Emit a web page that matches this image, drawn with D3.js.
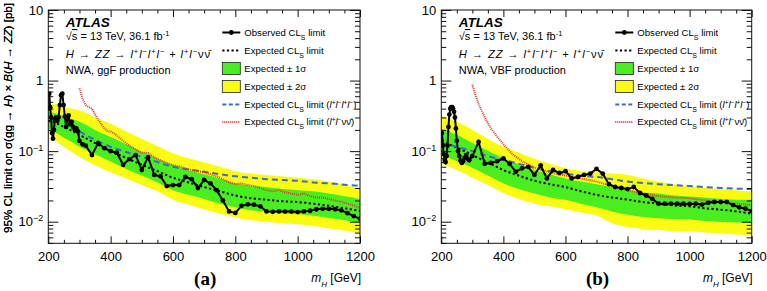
<!DOCTYPE html>
<html>
<head>
<meta charset="utf-8">
<script src="https://d3js.org/d3.v7.min.js"></script>
<style>
  body { margin: 0; background: #fff; }
  svg { font-family: "Liberation Sans", Arial, Helvetica, sans-serif; }
</style>
</head>
<body>
<script>
// mass grid for the expected limit and bands
const masses = [200, 225, 250, 275, 300, 350, 400, 450, 500, 550, 600, 650, 700, 750, 800, 850, 900, 950, 1000, 1050, 1100, 1150, 1200];

// ggF production
const ggfExp    = [0.27, 0.25, 0.22, 0.195, 0.17, 0.13, 0.10, 0.08, 0.064, 0.052, 0.042, 0.036, 0.031, 0.027, 0.0235, 0.0215, 0.0205, 0.0195, 0.019, 0.018, 0.0168, 0.0155, 0.0142];
const ggfMinus2 = [0.18, 0.14, 0.115, 0.097, 0.083, 0.063, 0.05, 0.041, 0.033, 0.027, 0.0205, 0.0175, 0.015, 0.013, 0.0115, 0.0105, 0.010, 0.0095, 0.0092, 0.0087, 0.0081, 0.0075, 0.0068];
const ggfMinus1 = [0.21, 0.18, 0.155, 0.135, 0.115, 0.09, 0.071, 0.056, 0.045, 0.036, 0.028, 0.024, 0.021, 0.018, 0.016, 0.0145, 0.0138, 0.0132, 0.0128, 0.0121, 0.0113, 0.0105, 0.0096];
const ggfPlus1  = [0.36, 0.34, 0.31, 0.285, 0.26, 0.20, 0.158, 0.125, 0.098, 0.078, 0.064, 0.054, 0.047, 0.041, 0.035, 0.032, 0.031, 0.029, 0.028, 0.027, 0.025, 0.023, 0.021];
const ggfPlus2  = [0.46, 0.46, 0.43, 0.40, 0.38, 0.30, 0.245, 0.19, 0.15, 0.118, 0.093, 0.079, 0.069, 0.060, 0.052, 0.048, 0.046, 0.044, 0.042, 0.040, 0.037, 0.033, 0.029];

const ggfObsMass = [200, 203, 206, 209, 212, 215, 218, 221, 225, 229, 233, 237, 241, 245, 249, 253, 257, 261, 265, 270, 275, 280, 285, 290, 295, 300, 310, 320, 340, 360, 380, 400, 420, 440, 460, 480, 500, 520, 540, 560, 580, 600, 620, 640, 660, 680, 700, 720, 740, 760, 780, 800, 820, 840, 860, 880, 900, 920, 940, 960, 980, 1000, 1020, 1040, 1060, 1080, 1100, 1120, 1140, 1160, 1180, 1200];
const ggfObs     = [0.40, 0.65, 0.42, 0.30, 0.18, 0.15, 0.20, 0.28, 0.30, 0.27, 0.30, 0.45, 0.62, 0.65, 0.45, 0.31, 0.22, 0.28, 0.32, 0.24, 0.26, 0.22, 0.20, 0.21, 0.19, 0.14, 0.125, 0.12, 0.088, 0.13, 0.11, 0.10, 0.095, 0.064, 0.077, 0.088, 0.054, 0.082, 0.046, 0.044, 0.032, 0.033, 0.033, 0.043, 0.040, 0.030, 0.039, 0.035, 0.028, 0.020, 0.014, 0.0133, 0.0168, 0.0176, 0.0174, 0.0165, 0.014, 0.0138, 0.014, 0.0139, 0.0139, 0.0137, 0.014, 0.0143, 0.015, 0.0152, 0.0152, 0.015, 0.0145, 0.0132, 0.012, 0.011];

const ggf4lMass = [300, 350, 400, 450, 500, 550, 600, 650, 700, 750, 800, 850, 900, 950, 1000, 1050, 1100, 1150, 1200];
const ggf4l     = [0.19, 0.145, 0.115, 0.097, 0.083, 0.07, 0.06, 0.055, 0.051, 0.047, 0.044, 0.042, 0.040, 0.039, 0.038, 0.036, 0.035, 0.0335, 0.032];

const ggfVvMass = [300, 310, 320, 330, 340, 350, 360, 370, 380, 390, 400, 410, 420, 440, 460, 480, 500, 520, 540, 560, 580, 600, 620, 640, 660, 680, 700, 720, 740, 760, 780, 800, 820, 840, 860, 880, 900, 920, 940, 960, 980, 1000, 1020, 1040, 1060, 1080, 1100, 1120, 1140, 1160, 1180, 1200];
const ggfVv     = [0.78, 0.55, 0.45, 0.42, 0.40, 0.33, 0.28, 0.24, 0.21, 0.19, 0.19, 0.18, 0.165, 0.14, 0.12, 0.105, 0.095, 0.094, 0.082, 0.074, 0.068, 0.063, 0.061, 0.057, 0.054, 0.052, 0.05, 0.047, 0.044, 0.040, 0.036, 0.034, 0.035, 0.033, 0.032, 0.030, 0.028, 0.027, 0.028, 0.026, 0.025, 0.024, 0.025, 0.023, 0.022, 0.022, 0.021, 0.020, 0.019, 0.018, 0.017, 0.0155];

// VBF production
const vbfExp    = [0.135, 0.125, 0.112, 0.10, 0.088, 0.069, 0.054, 0.045, 0.038, 0.034, 0.031, 0.027, 0.024, 0.022, 0.0205, 0.019, 0.018, 0.017, 0.0165, 0.0155, 0.0148, 0.014, 0.013];
const vbfMinus2 = [0.067, 0.060, 0.054, 0.048, 0.042, 0.033, 0.0254, 0.021, 0.018, 0.0165, 0.015, 0.0135, 0.0122, 0.0095, 0.0084, 0.0079, 0.0076, 0.0074, 0.0073, 0.0070, 0.0068, 0.0066, 0.0065];
const vbfMinus1 = [0.088, 0.080, 0.072, 0.065, 0.058, 0.045, 0.035, 0.029, 0.025, 0.022, 0.0204, 0.018, 0.016, 0.014, 0.0125, 0.0117, 0.0112, 0.0109, 0.0107, 0.0102, 0.0099, 0.0097, 0.0096];
const vbfPlus1  = [0.21, 0.19, 0.17, 0.15, 0.13, 0.101, 0.079, 0.065, 0.054, 0.047, 0.041, 0.037, 0.034, 0.031, 0.028, 0.026, 0.025, 0.0235, 0.0227, 0.022, 0.021, 0.0205, 0.0204];
const vbfPlus2  = [0.32, 0.29, 0.26, 0.23, 0.20, 0.15, 0.115, 0.095, 0.078, 0.066, 0.057, 0.052, 0.050, 0.048, 0.046, 0.041, 0.037, 0.034, 0.032, 0.030, 0.029, 0.028, 0.0267];

const vbfObsMass = [200, 202, 205, 208, 211, 214, 217, 220, 223, 226, 229, 232, 235, 238, 241, 244, 247, 250, 254, 258, 262, 266, 270, 275, 280, 285, 290, 300, 320, 340, 360, 380, 400, 420, 440, 460, 480, 500, 520, 540, 560, 580, 600, 620, 640, 660, 680, 700, 720, 740, 760, 780, 800, 820, 840, 860, 880, 900, 920, 940, 960, 980, 1000, 1020, 1040, 1060, 1080, 1100, 1120, 1140, 1160, 1180, 1200];
const vbfObs     = [0.143, 0.18, 0.12, 0.09, 0.075, 0.07, 0.085, 0.12, 0.22, 0.33, 0.40, 0.42, 0.42, 0.40, 0.36, 0.30, 0.21, 0.14, 0.10, 0.085, 0.073, 0.068, 0.072, 0.08, 0.088, 0.078, 0.074, 0.085, 0.135, 0.066, 0.068, 0.072, 0.079, 0.066, 0.051, 0.057, 0.06, 0.046, 0.063, 0.041, 0.054, 0.049, 0.052, 0.041, 0.043, 0.046, 0.048, 0.056, 0.048, 0.034, 0.031, 0.030, 0.029, 0.031, 0.0255, 0.0235, 0.021, 0.018, 0.018, 0.018, 0.018, 0.018, 0.0178, 0.018, 0.0175, 0.0185, 0.019, 0.019, 0.019, 0.0172, 0.016, 0.0153, 0.0142];

const vbf4lMass = [200, 250, 300, 350, 400, 450, 500, 550, 600, 650, 700, 800, 900, 1000, 1100, 1200];
const vbf4l     = [0.13, 0.115, 0.1, 0.085, 0.075, 0.066, 0.058, 0.052, 0.048, 0.045, 0.043, 0.037, 0.034, 0.032, 0.030, 0.029];

const vbfVvMass = [300, 310, 320, 340, 360, 380, 400, 430, 460, 500, 550, 600, 650, 700, 750, 800, 850, 900, 950, 1000, 1050, 1100, 1150, 1200];
const vbfVv     = [0.88, 0.62, 0.47, 0.30, 0.21, 0.16, 0.125, 0.09, 0.072, 0.058, 0.05, 0.045, 0.041, 0.037, 0.032, 0.028, 0.025, 0.023, 0.022, 0.0215, 0.020, 0.019, 0.018, 0.0172];

const xMajorTicks = [200, 400, 600, 800, 1000, 1200];
const yMajorTicks = [0.01, 0.1, 1, 10];
const yTickLabels = [["10", "\u22122"], ["10", "\u22121"], ["1", ""], ["10", ""]];

const legendLabels = ["Observed CL", "Expected CL", "Expected \u00b1 1\u03c3", "Expected \u00b1 2\u03c3", "Expected CL", "Expected CL"];

const colGreen = "#48ee20";
const colYellow = "#fbfb12";
const colBlue = "#3a6cc8";
const colRed = "#dc3c34";

const svg = d3.select("body").append("svg")
    .attr("width", 767)
    .attr("height", 291);

const plotTop = 10, plotBottom = 243.3;

// italic lepton symbols with charge superscripts
function leptons(el, signs, size) {
    signs.forEach(sg => {
        el.append("tspan").attr("font-style", "italic").text("l");
        el.append("tspan").attr("font-size", size).attr("baseline-shift", "super").text(sg);
    });
}

function drawPanel(p) {
    const w = p.right - p.left;
    const g = svg.append("g").attr("transform", "translate(" + p.left + ",0)");

    const x = d3.scaleLinear().domain([200, 1200]).range([0, w]);
    const y = d3.scaleLog().domain([0.00494, 10]).range([plotBottom, plotTop]);

    g.append("clipPath").attr("id", "clip-" + p.tag)
        .append("rect").attr("x", 0).attr("y", plotTop).attr("width", w).attr("height", plotBottom - plotTop);

    const plot = g.append("g").attr("clip-path", "url(#clip-" + p.tag + ")");

    const band = (lo, hi) => d3.area()
        .x((d, i) => x(masses[i]))
        .y0((d, i) => y(lo[i]))
        .y1((d, i) => y(hi[i]))
        .curve(d3.curveMonotoneX)(masses);

    plot.append("path").attr("d", band(p.m2, p.p2)).attr("fill", colYellow);
    plot.append("path").attr("d", band(p.m1, p.p1)).attr("fill", colGreen);

    const line = (ms, vs, curve) => d3.line()
        .x((d, i) => x(ms[i]))
        .y((d, i) => y(vs[i]))
        .curve(curve)(ms);

    plot.append("path").attr("d", line(masses, p.exp, d3.curveMonotoneX))
        .attr("fill", "none").attr("stroke", "#000").attr("stroke-width", 2)
        .attr("stroke-dasharray", "2.2,2.4");

    plot.append("path").attr("d", line(p.m4l, p.v4l, d3.curveMonotoneX))
        .attr("fill", "none").attr("stroke", colBlue).attr("stroke-width", 2)
        .attr("stroke-dasharray", "6,4");

    plot.append("path").attr("d", line(p.mvv, p.vvv, d3.curveLinear))
        .attr("fill", "none").attr("stroke", colRed).attr("stroke-width", 2)
        .attr("stroke-dasharray", "1,1");

    plot.append("path").attr("d", line(p.obsM, p.obs, d3.curveLinear))
        .attr("fill", "none").attr("stroke", "#000").attr("stroke-width", 2);

    plot.selectAll("circle.obs")
        .data(p.obsM)
        .enter().append("circle")
        .attr("class", "obs")
        .attr("cx", d => x(d))
        .attr("cy", (d, i) => y(p.obs[i]))
        .attr("r", 2.4)
        .attr("fill", "#000");

    // axes, ROOT style (ticks inside, mirrored)
    const xMinor = d3.range(250, 1200, 50).filter(v => v % 200 !== 0);
    const yMinor = [];
    [0.001, 0.01, 0.1, 1].forEach(dec => {
        for (let k = 2; k <= 9; k++) {
            const v = dec * k;
            if (v >= 0.00494 && v < 10) yMinor.push(v);
        }
    });

    const addAxis = (axis, tx, ty) => g.append("g")
        .attr("transform", "translate(" + tx + "," + ty + ")")
        .call(axis)
        .call(s => s.select(".domain").remove());

    addAxis(d3.axisBottom(x).tickValues(xMajorTicks).tickSize(-7).tickPadding(8).tickFormat(d3.format("d")), 0, plotBottom)
        .selectAll("text").attr("font-size", 13).attr("fill", "#000")
        .attr("font-family", "Liberation Sans, Arial, sans-serif");
    addAxis(d3.axisBottom(x).tickValues(xMinor).tickSize(-3.5).tickFormat(""), 0, plotBottom);
    addAxis(d3.axisTop(x).tickValues(xMajorTicks).tickSize(-7).tickFormat(""), 0, plotTop);
    addAxis(d3.axisTop(x).tickValues(xMinor).tickSize(-3.5).tickFormat(""), 0, plotTop);

    addAxis(d3.axisLeft(y).tickValues(yMajorTicks).tickSize(-10).tickFormat(""), 0, 0);
    addAxis(d3.axisLeft(y).tickValues(yMinor).tickSize(-5).tickFormat(""), 0, 0);
    addAxis(d3.axisRight(y).tickValues(yMajorTicks).tickSize(-10).tickFormat(""), w, 0);
    addAxis(d3.axisRight(y).tickValues(yMinor).tickSize(-5).tickFormat(""), w, 0);

    g.selectAll(".tick line").attr("stroke", "#111");

    // y tick labels with superscripts
    yMajorTicks.forEach((v, i) => {
        const t = g.append("text")
            .attr("x", -5).attr("y", y(v)).attr("dy", "0.36em")
            .attr("text-anchor", "end").attr("font-size", 13);
        t.append("tspan").text(yTickLabels[i][0]);
        if (yTickLabels[i][1]) {
            t.append("tspan").attr("font-size", 9).attr("baseline-shift", "super").text(yTickLabels[i][1]);
        }
    });

    g.append("rect").attr("x", 0).attr("y", plotTop).attr("width", w).attr("height", plotBottom - plotTop)
        .attr("fill", "none").attr("stroke", "#111").attr("stroke-width", 1);

    // y axis title
    const yt = g.append("text")
        .attr("transform", "translate(" + (-p.left + 12) + ",3) rotate(-90)")
        .attr("text-anchor", "end")
        .attr("font-size", 11.6);
    yt.append("tspan").text("95% CL limit on \u03c3(" + p.prodIn + " \u2192 ");
    yt.append("tspan").attr("font-style", "italic").text("H");
    yt.append("tspan").text(") \u00d7 ");
    yt.append("tspan").attr("font-style", "italic").text("B");
    yt.append("tspan").text("(");
    yt.append("tspan").attr("font-style", "italic").text("H");
    yt.append("tspan").text(" \u2192 ");
    yt.append("tspan").attr("font-style", "italic").text("ZZ");
    yt.append("tspan").text(") [pb]");

    // x axis title
    const xt = g.append("text").attr("x", w + 1).attr("y", 282)
        .attr("text-anchor", "end").attr("font-size", 12);
    xt.append("tspan").attr("font-style", "italic").text("m");
    xt.append("tspan").attr("font-style", "italic").attr("font-size", 8).attr("baseline-shift", "sub").text("H");
    xt.append("tspan").text(" [GeV]");

    g.append("text").attr("x", w / 2 + 1).attr("y", 285)
        .attr("text-anchor", "middle")
        .attr("font-family", "Liberation Serif, Times New Roman, serif")
        .attr("font-weight", "bold").attr("font-size", 19)
        .text(p.tag === "a" ? "(a)" : "(b)");

    // ATLAS text block
    const tx = 17.5;
    g.append("text").attr("x", tx).attr("y", 27)
        .attr("font-weight", "bold").attr("font-style", "italic").attr("font-size", 13.5)
        .text("ATLAS");
    const s1 = g.append("text").attr("x", tx).attr("y", 40).attr("font-size", 11);
    s1.append("tspan").text("\u221a");
    s1.append("tspan").attr("text-decoration", "overline").text("s");
    s1.append("tspan").text(" = 13 TeV, 36.1 fb");
    s1.append("tspan").attr("font-size", 7.5).attr("baseline-shift", "super").text("-1");
    const s2 = g.append("text").attr("x", tx).attr("y", 58).attr("font-size", 11.2)
        .attr("letter-spacing", 0.9);
    s2.append("tspan").attr("font-style", "italic").text("H");
    s2.append("tspan").text(" \u2192 ");
    s2.append("tspan").attr("font-style", "italic").text("ZZ");
    s2.append("tspan").text(" \u2192 ");
    leptons(s2, ["+", "\u2212", "+", "\u2212"], 7.5);
    s2.append("tspan").text(" + ");
    leptons(s2, ["+", "\u2212"], 7.5);
    s2.append("tspan").text("\u03bd\u03bd\u0304");
    g.append("text").attr("x", tx).attr("y", 74).attr("font-size", 11)
        .text("NWA, " + p.prod + " production");

    // legend
    const lx = 174, ly = [32.5, 50.5, 68.5, 86.5, 104.5, 122];
    const leg = g.append("g").attr("font-size", 9.6);

    leg.append("line").attr("x1", lx).attr("x2", lx + 18).attr("y1", ly[0]).attr("y2", ly[0])
        .attr("stroke", "#000").attr("stroke-width", 2);
    leg.append("circle").attr("cx", lx + 9).attr("cy", ly[0]).attr("r", 2.4).attr("fill", "#000");
    leg.append("line").attr("x1", lx).attr("x2", lx + 18).attr("y1", ly[1]).attr("y2", ly[1])
        .attr("stroke", "#000").attr("stroke-width", 2).attr("stroke-dasharray", "2.2,2.4");
    leg.append("rect").attr("x", lx).attr("y", ly[2] - 6).attr("width", 18).attr("height", 12)
        .attr("fill", colGreen).attr("stroke", "#222").attr("stroke-width", 0.8);
    leg.append("rect").attr("x", lx).attr("y", ly[3] - 6).attr("width", 18).attr("height", 12)
        .attr("fill", colYellow).attr("stroke", "#222").attr("stroke-width", 0.8);
    leg.append("line").attr("x1", lx).attr("x2", lx + 18).attr("y1", ly[4]).attr("y2", ly[4])
        .attr("stroke", colBlue).attr("stroke-width", 2).attr("stroke-dasharray", "4,2.5");
    leg.append("line").attr("x1", lx).attr("x2", lx + 18).attr("y1", ly[5]).attr("y2", ly[5])
        .attr("stroke", colRed).attr("stroke-width", 2).attr("stroke-dasharray", "1,1");

    legendLabels.forEach((lab, i) => {
        const t = leg.append("text").attr("x", lx + 22).attr("y", ly[i]).attr("dy", "0.35em");
        t.append("tspan").text(lab);
        if (i === 0 || i === 1 || i >= 4) {
            t.append("tspan").attr("font-size", 7).attr("baseline-shift", "sub").text("S");
            t.append("tspan").text(" limit");
        }
        if (i === 4) {
            t.append("tspan").text(" (");
            leptons(t, ["+", "\u2212", "+", "\u2212"], 6.5);
            t.append("tspan").text(")");
        }
        if (i === 5) {
            t.append("tspan").text(" (");
            leptons(t, ["+", "\u2212"], 6.5);
            t.append("tspan").text("\u03bd\u03bd\u0304)");
        }
    });
}

drawPanel({
    tag: "a", left: 48.3, right: 360, prod: "ggF", prodIn: "gg",
    exp: ggfExp, m2: ggfMinus2, m1: ggfMinus1, p1: ggfPlus1, p2: ggfPlus2,
    obsM: ggfObsMass, obs: ggfObs, m4l: ggf4lMass, v4l: ggf4l, mvv: ggfVvMass, vvv: ggfVv
});

drawPanel({
    tag: "b", left: 441.3, right: 751.7, prod: "VBF", prodIn: "qq",
    exp: vbfExp, m2: vbfMinus2, m1: vbfMinus1, p1: vbfPlus1, p2: vbfPlus2,
    obsM: vbfObsMass, obs: vbfObs, m4l: vbf4lMass, v4l: vbf4l, mvv: vbfVvMass, vvv: vbfVv
});
</script>
</body>
</html>
